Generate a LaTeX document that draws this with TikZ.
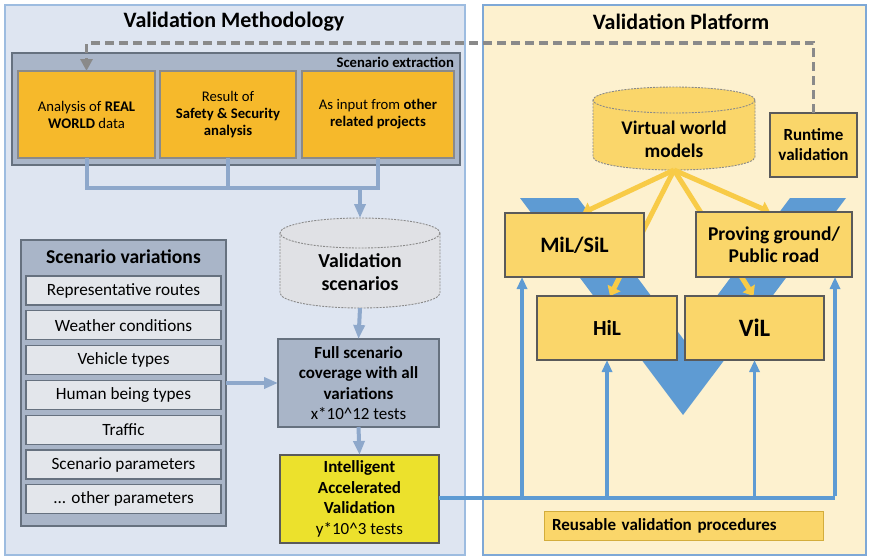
\documentclass[tikz,border=0pt]{standalone}
\usepackage{fontspec}
\setmainfont{Carlito}
\usetikzlibrary{arrows.meta,calc}

\definecolor{methbg}{HTML}{DEE5F1}
\definecolor{methedge}{HTML}{9DBCE0}
\definecolor{platbg}{HTML}{FDF1CF}
\definecolor{platedge}{HTML}{7EA8D6}
\definecolor{groupfill}{HTML}{A9B5C8}
\definecolor{groupedge}{HTML}{66717F}
\definecolor{srcfill}{HTML}{F6B92B}
\definecolor{itemfill}{HTML}{E3E6EB}
\definecolor{dbgrey}{HTML}{E0E1E5}
\definecolor{iavfill}{HTML}{ECE12C}
\definecolor{platfill}{HTML}{FAD66A}
\definecolor{vblue}{HTML}{5E9BD3}
\definecolor{flowblue}{HTML}{8EA8CB}
\definecolor{feedyellow}{HTML}{F8CB47}
\definecolor{dashgrey}{HTML}{8A8A8A}
\definecolor{edgegrey}{HTML}{5A5A5A}

\begin{document}
\begin{tikzpicture}[x=1pt,y=-1pt,
  every node/.style={inner sep=0pt, outer sep=0pt},
  panel/.style={line width=1.8pt},
  titletext/.style={font=\fontsize{22}{26}\selectfont\bfseries},
  group/.style={draw=groupedge, line width=1.5pt, fill=groupfill},
  srcbox/.style={draw=dashgrey, line width=1.3pt, fill=srcfill, minimum height=87pt,
    align=center, font=\fontsize{14.7}{17}\selectfont},
  varitem/.style={draw=groupedge, line width=1.3pt, fill=itemfill, minimum width=195pt,
    minimum height=29pt, font=\fontsize{17.2}{20}\selectfont},
  stagebox/.style={draw=groupedge, line width=1.5pt, minimum width=160pt, minimum height=88pt,
    align=center, font=\fontsize{17}{20.5}\selectfont},
  platbox/.style={draw=edgegrey, line width=1.3pt, fill=platfill, align=center,
    font=\fontsize{19.5}{22}\selectfont\bfseries},
  flowline/.style={draw=flowblue, line width=4pt},
  flowarrow/.style={flowline, -{Triangle[length=14pt,width=11pt]}},
  busline/.style={draw=vblue, line width=4.5pt},
  busarrow/.style={draw=vblue, line width=3.6pt, -{Triangle[length=12pt,width=10pt]}},
  feed/.style={draw=feedyellow, line width=5pt, -{Triangle[length=9pt,width=14pt]}},
  loopback/.style={draw=dashgrey, line width=3.2pt, dash pattern=on 9pt off 5pt,
    -{Triangle[length=12pt,width=12pt]}},
  dbline/.style={draw=dashgrey, line width=0.9pt, dash pattern=on 2pt off 1.2pt},
]
\useasboundingbox (0,0) rectangle (869,557);
\fill[white] (0,0) rectangle (869,557);

% the two panels
\node[panel, fill=methbg, draw=methedge, minimum width=460pt, minimum height=550pt] (meth) at (235,280) {};
\node[panel, fill=platbg, draw=platedge, minimum width=383pt, minimum height=550pt] (plat) at (674.5,280) {};
\node[titletext] (methtitle) at (234,22) {Validation Methodology};
\node[titletext] (plattitle) at (681,22) {Validation Platform};

% ---------------- methodology side ----------------
\node[group, minimum width=448pt, minimum height=112pt] (extract) at (236,109) {};
\node[anchor=east, font=\fontsize{14.7}{17}\selectfont\bfseries] (extractlabel) at (454,62) {Scenario extraction};

\node[srcbox, minimum width=137pt] (ext1) at (86.5,114.5)
  {Analysis of \textbf{REAL}\\\textbf{WORLD} data};
\node[srcbox, minimum width=136pt] (ext2) at (228,114.5)
  {Result of\\\textbf{Safety \& Security}\\\textbf{analysis}};
\node[srcbox, minimum width=152pt] (ext3) at (378,114.5)
  {As input from \textbf{other}\\\textbf{related projects}};

% validation scenario store
\node[minimum width=160pt, minimum height=90pt] (vs) at (360,263) {};
\path[fill=dbgrey] ($(vs.north west)+(0,15)$) -- ($(vs.south west)+(0,-15)$)
  arc[start angle=180, end angle=0, x radius=80, y radius=15]
  -- ($(vs.north east)+(0,15)$) -- cycle;
\draw[dbline] ($(vs.north west)+(0,15)$) -- ($(vs.south west)+(0,-15)$)
  arc[start angle=180, end angle=0, x radius=80, y radius=15]
  -- ($(vs.north east)+(0,15)$);
\draw[dbline, fill=dbgrey] ($(vs.north)+(0,15)$) ellipse[x radius=80, y radius=15];
\node[align=center, font=\fontsize{19.8}{23}\selectfont\bfseries] (vstext) at (360,272) {Validation\\scenarios};

\node[stagebox, fill=groupfill, minimum width=161pt] (fs) at (358.5,383)
  {\textbf{Full scenario}\\\textbf{coverage with all}\\\textbf{variations}\\x*10\^{}12 tests};
\node[stagebox, fill=iavfill, draw=edgegrey, minimum width=159pt] (iav) at (359.5,499)
  {\textbf{Intelligent}\\\textbf{Accelerated}\\\textbf{Validation}\\y*10\^{}3 tests};

% scenario variations list
\node[group, minimum width=205pt, minimum height=286pt] (sv) at (123.5,383) {};
\node[font=\fontsize{19.6}{22}\selectfont\bfseries] (svtitle) at (123.5,257) {Scenario variations};
\node[varitem] (var1) at (123.5,290.5) {Representative routes};
\node[varitem] (var2) at (123.5,325.3) {Weather conditions};
\node[varitem] (var3) at (123.5,360.1) {Vehicle types};
\node[varitem] (var4) at (123.5,394.9) {Human being types};
\node[varitem] (var5) at (123.5,429.7) {Traffic};
\node[varitem] (var6) at (123.5,464.5) {Scenario parameters};
\node[varitem] (var7) at (123.5,499.3) {... other parameters};

% methodology flow
\draw[flowline] (ext1.south) -- (ext1.south |- 0,188) -- (ext3.south |- 0,188) -- (ext3.south);
\draw[flowline] (ext2.south) -- (ext2.south |- 0,188);
\draw[flowarrow] (vs.north |- 0,186) -- (vs.north);
\draw[flowarrow] (vs.south) -- (fs.north);
\draw[flowarrow] (fs.south) -- (iav.north);
\draw[flowarrow] (sv.east) -- (fs.west);

% ---------------- platform side ----------------
% V-model backdrop
\fill[vblue] (520,198) -- (683,415) -- (846,198) -- (790,198) -- (684,340) -- (578,198) -- cycle;

% virtual world models store
\node[minimum width=162pt, minimum height=83pt] (vw) at (674,128.5) {};
\path[fill=platfill] ($(vw.north west)+(0,13)$) -- ($(vw.south west)+(0,-13)$)
  arc[start angle=180, end angle=0, x radius=81, y radius=13]
  -- ($(vw.north east)+(0,13)$) -- cycle;
\draw[dbline] ($(vw.north west)+(0,13)$) -- ($(vw.south west)+(0,-13)$)
  arc[start angle=180, end angle=0, x radius=81, y radius=13]
  -- ($(vw.north east)+(0,13)$);
\draw[dbline, fill=platfill] ($(vw.north)+(0,13)$) ellipse[x radius=81, y radius=13];
\node[align=center, font=\fontsize{19.3}{23}\selectfont\bfseries] (vwtext) at (674,139) {Virtual world\\models};

% stage positions, used by the feeds before the boxes are laid over them
\coordinate (milpos) at (574.5,245);
\coordinate (pgpos) at (774,244.5);
\coordinate (hilpos) at (607,328);
\coordinate (vilpos) at (754.5,328);

% feeds from the virtual world models
\draw[feed] (vw.south) -- ($(milpos)+(8,-32)$);
\draw[feed] (vw.south) -- ($(hilpos)+(3,-32)$);
\draw[feed] (vw.south) -- ($(vilpos)+(-1,-32)$);
\draw[feed] (vw.south) -- ($(pgpos)+(-4,-32.5)$);

\node[platbox, minimum width=139pt, minimum height=64pt, font=\fontsize{22}{24}\selectfont\bfseries] (mil) at (milpos) {MiL/SiL};
\node[platbox, minimum width=156pt, minimum height=65pt] (pg) at (pgpos) {Proving ground/\\Public road};
\node[platbox, minimum width=140pt, minimum height=64pt, font=\fontsize{21.5}{24}\selectfont\bfseries] (hil) at (hilpos) {HiL};
\node[platbox, minimum width=139pt, minimum height=64pt, font=\fontsize{25}{28}\selectfont\bfseries] (vil) at (vilpos) {ViL};

\node[platbox, minimum width=87pt, minimum height=64pt, font=\fontsize{17}{20}\selectfont\bfseries] (rt) at (813.5,145) {Runtime\\validation};

\node[draw=feedyellow!85!black, line width=1pt, fill=platfill, minimum width=279pt, minimum height=29pt,
  text width=263pt, align=left, font=\fontsize{17}{19}\selectfont\bfseries] (rvp) at (683.5,525.5)
  {Reusable validation procedures};

% loop back from runtime validation to scenario extraction
\draw[loopback] (rt.north) -- (rt.north |- 0,43) -| (ext1.north);

% accelerated validation feeding every platform stage
\coordinate (busend) at (835,498);
\draw[busline] (iav.east |- busend) -- (busend);
\draw[busarrow] ([xshift=17pt]mil.south west |- busend) -- ([xshift=17pt]mil.south west);
\draw[busarrow] (hil.south |- busend) -- (hil.south);
\draw[busarrow] (vil.south |- busend) -- (vil.south);
\draw[busarrow] ([yshift=2.25pt]busend) -- (busend |- pg.south);
\end{tikzpicture}
\end{document}
